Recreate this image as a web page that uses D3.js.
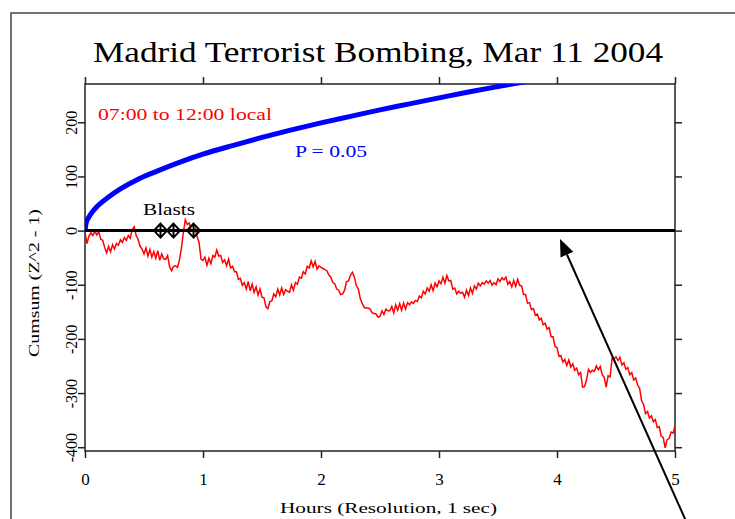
<!DOCTYPE html>
<html>
<head>
<meta charset="utf-8">
<script src="https://cdn.jsdelivr.net/npm/d3@7"></script>
<style>
  html, body { margin: 0; padding: 0; background: #fff; }
  svg { display: block; }
  text { font-family: "Liberation Serif", "DejaVu Serif", serif; }
</style>
</head>
<body>
<svg id="chart" width="735" height="519"></svg>
<script>
// Cumulative deviation, one value per minute from 07:00 to 12:00 local
const cumsumMinutes = [
  -2, -24, -10, -4, -9, -1, -8, -2, -16, -18, -31,
  -41, -29, -39, -26, -34, -24, -27, -17, -22, -13,
  -18, -9, -14, 2, 7, -9, -16, -29, -34, -43,
  -32, -47, -35, -49, -39, -51, -37, -55, -43, -52,
  -53, -46, -67, -74, -66, -65, -68, -55, -33, -4,
  20, 11, 14, 1, -1, 4, -11, -22, -53, -55,
  -49, -64, -51, -61, -46, -49, -36, -47, -46, -59,
  -54, -65, -53, -69, -66, -76, -76, -90, -88, -101,
  -96, -108, -94, -111, -99, -114, -104, -119, -108, -123,
  -124, -141, -144, -131, -130, -117, -122, -108, -119, -106,
  -118, -109, -112, -114, -100, -110, -96, -99, -86, -88,
  -76, -80, -66, -69, -56, -67, -57, -71, -65, -68,
  -70, -72, -74, -82, -86, -96, -98, -108, -110, -118,
  -117, -110, -94, -93, -82, -77, -86, -102, -108, -126,
  -135, -142, -143, -143, -145, -152, -153, -154, -160, -158,
  -148, -155, -145, -148, -148, -140, -152, -137, -147, -135,
  -147, -134, -145, -133, -137, -132, -134, -129, -131, -121,
  -124, -112, -117, -106, -112, -100, -111, -97, -104, -93,
  -98, -86, -97, -83, -93, -92, -108, -106, -117, -112,
  -116, -114, -123, -110, -120, -106, -116, -102, -108, -97,
  -102, -96, -99, -93, -97, -92, -101, -96, -100, -89,
  -94, -87, -91, -86, -99, -94, -104, -92, -103, -90,
  -101, -102, -118, -118, -134, -133, -146, -144, -156, -154,
  -165, -162, -174, -171, -182, -179, -196, -196, -214, -216,
  -232, -231, -243, -238, -249, -239, -252, -246, -258, -254,
  -266, -262, -289, -288, -276, -256, -262, -258, -260, -250,
  -257, -251, -266, -271, -289, -268, -270, -236, -237, -233,
  -240, -234, -248, -244, -256, -253, -266, -262, -276, -272,
  -285, -291, -314, -321, -338, -334, -346, -342, -353, -349,
  -364, -362, -380, -382, -401, -386, -384, -372, -374, -361
];
const cumsumHours = cumsumMinutes.map((_, i) => i / 60);

// P = 0.05 envelope, read at selected hours
const envelopeHours  = [0, 0.01, 0.03, 0.06, 0.1, 0.2, 0.3, 0.45, 0.6, 0.8, 1, 1.25, 1.5, 1.75, 2, 2.25, 2.5, 2.75, 3, 3.25, 3.5, 3.76, 3.9];
const envelopeValues = [0, 14, 24, 34, 44, 62, 77, 95, 109, 126, 141, 157, 172, 186, 199, 211, 223, 234, 245, 256, 266, 276, 281];

// Event markers (hours after 07:00)
const blastHours = [0.64, 0.75, 0.92];

const xTicks = [0, 1, 2, 3, 4, 5];
const yTicks = [-400, -300, -200, -100, 0, 100, 200];

const svg = d3.select("#chart");
const plot = { left: 85, right: 675, top: 84, bottom: 451 };

const x = d3.scaleLinear().domain([0, 5]).range([plot.left, plot.right]);
const y = d3.scaleLinear().domain([-407, 270.7]).range([plot.bottom, plot.top]);

// Outer frame
svg.append("path")
  .attr("d", "M11,530 L11,13 L740,13")
  .attr("fill", "none").attr("stroke", "#444").attr("stroke-width", 1.5);

// Title
svg.append("text")
  .attr("x", 93).attr("y", 62)
  .attr("textLength", 570).attr("lengthAdjust", "spacingAndGlyphs")
  .attr("font-size", 30).attr("fill", "#000")
  .text("Madrid Terrorist Bombing, Mar 11 2004");

svg.append("defs").append("clipPath").attr("id", "plotClip")
  .append("rect")
  .attr("x", plot.left).attr("y", plot.top)
  .attr("width", plot.right - plot.left).attr("height", plot.bottom - plot.top);

// Axes on all four sides, ticks pointing outward
const axisStyle = g => {
  g.select(".domain").remove();
  g.selectAll(".tick line").attr("stroke", "#222").attr("stroke-width", 1.5);
};

const gBottom = svg.append("g").attr("transform", `translate(0,${plot.bottom})`)
  .call(d3.axisBottom(x).tickValues(xTicks).tickSize(7).tickFormat(d => String(d)))
  .call(axisStyle);
gBottom.selectAll(".tick text")
  .attr("y", 34).attr("dy", 0)
  .attr("font-family", "Liberation Serif, serif")
  .attr("font-size", 17).attr("fill", "#000");

svg.append("g").attr("transform", `translate(0,${plot.top})`)
  .call(d3.axisTop(x).tickValues(xTicks).tickSize(7).tickFormat(""))
  .call(axisStyle);

const gLeft = svg.append("g").attr("transform", `translate(${plot.left},0)`)
  .call(d3.axisLeft(y).tickValues(yTicks).tickSize(7).tickFormat(d => String(d)))
  .call(axisStyle);
gLeft.selectAll(".tick text")
  .attr("x", null).attr("dy", null)
  .attr("transform", "translate(-8,0) rotate(-90)")
  .attr("text-anchor", "middle")
  .attr("font-family", "Liberation Serif, serif")
  .attr("font-size", 16).attr("fill", "#000");

svg.append("g").attr("transform", `translate(${plot.right},0)`)
  .call(d3.axisRight(y).tickValues(yTicks).tickSize(7).tickFormat(""))
  .call(axisStyle);

// Plot frame
svg.append("rect")
  .attr("x", plot.left).attr("y", plot.top)
  .attr("width", plot.right - plot.left).attr("height", plot.bottom - plot.top)
  .attr("fill", "none").attr("stroke", "#222").attr("stroke-width", 1.5);

// Axis titles
svg.append("text")
  .attr("transform", `translate(39,${283}) rotate(-90)`)
  .attr("text-anchor", "middle")
  .attr("textLength", 148).attr("lengthAdjust", "spacingAndGlyphs")
  .attr("font-size", 15).attr("fill", "#000")
  .text("Cumsum (Z^2 - 1)");

svg.append("text")
  .attr("x", 280).attr("y", 513)
  .attr("textLength", 217).attr("lengthAdjust", "spacingAndGlyphs")
  .attr("font-size", 14).attr("fill", "#000")
  .text("Hours (Resolution, 1 sec)");

const lines = svg.append("g").attr("clip-path", "url(#plotClip)");

// Envelope curve
lines.append("path")
  .datum(envelopeHours.map((h, i) => [h, envelopeValues[i]]))
  .attr("fill", "none").attr("stroke", "#0000ff").attr("stroke-width", 5)
  .attr("d", d3.line().x(d => x(d[0])).y(d => y(d[1])).curve(d3.curveMonotoneX));

// Cumulative deviation trace
lines.append("path")
  .datum(cumsumHours.map((h, i) => [h, cumsumMinutes[i]]))
  .attr("fill", "none").attr("stroke", "#ff0000").attr("stroke-width", 1.5)
  .attr("stroke-linejoin", "miter")
  .attr("d", d3.line().x(d => x(d[0])).y(d => y(d[1])));

// Zero line
svg.append("line")
  .attr("x1", x(0)).attr("x2", x(5)).attr("y1", y(0)).attr("y2", y(0))
  .attr("stroke", "#000").attr("stroke-width", 3);

// Blast markers
const blasts = svg.append("g");
blasts.selectAll("path").data(blastHours).join("path")
  .attr("transform", d => `translate(${x(d)},${y(0)})`)
  .attr("d", "M0,-7 L6.5,0 L0,7 L-6.5,0 Z M0,-7 L0,7 M-6.5,0 L6.5,0")
  .attr("fill", "none").attr("stroke", "#000").attr("stroke-width", 2);
svg.append("text")
  .attr("x", 143).attr("y", 215)
  .attr("textLength", 52).attr("lengthAdjust", "spacingAndGlyphs")
  .attr("font-size", 17).attr("fill", "#000")
  .text("Blasts");

// Annotations
svg.append("text")
  .attr("x", 98).attr("y", 120)
  .attr("textLength", 174).attr("lengthAdjust", "spacingAndGlyphs")
  .attr("font-size", 17).attr("fill", "#ff0000")
  .text("07:00 to 12:00 local");

svg.append("text")
  .attr("x", 295).attr("y", 157)
  .attr("textLength", 72).attr("lengthAdjust", "spacingAndGlyphs")
  .attr("font-size", 17).attr("fill", "#0000ff")
  .text("P = 0.05");

// Pointer arrow
const tip = [560, 239], tail = [690, 530];
const dx = tail[0] - tip[0], dy = tail[1] - tip[1];
const len = Math.hypot(dx, dy), ux = dx / len, uy = dy / len;
const headLen = 17, headHalf = 7;
const base = [tip[0] + ux * headLen, tip[1] + uy * headLen];
svg.append("line")
  .attr("x1", base[0]).attr("y1", base[1]).attr("x2", tail[0]).attr("y2", tail[1])
  .attr("stroke", "#000").attr("stroke-width", 2);
svg.append("path")
  .attr("d", `M${tip[0]},${tip[1]} L${base[0] - uy * headHalf},${base[1] + ux * headHalf} L${base[0] + uy * headHalf},${base[1] - ux * headHalf} Z`)
  .attr("fill", "#000");
</script>
</body>
</html>
